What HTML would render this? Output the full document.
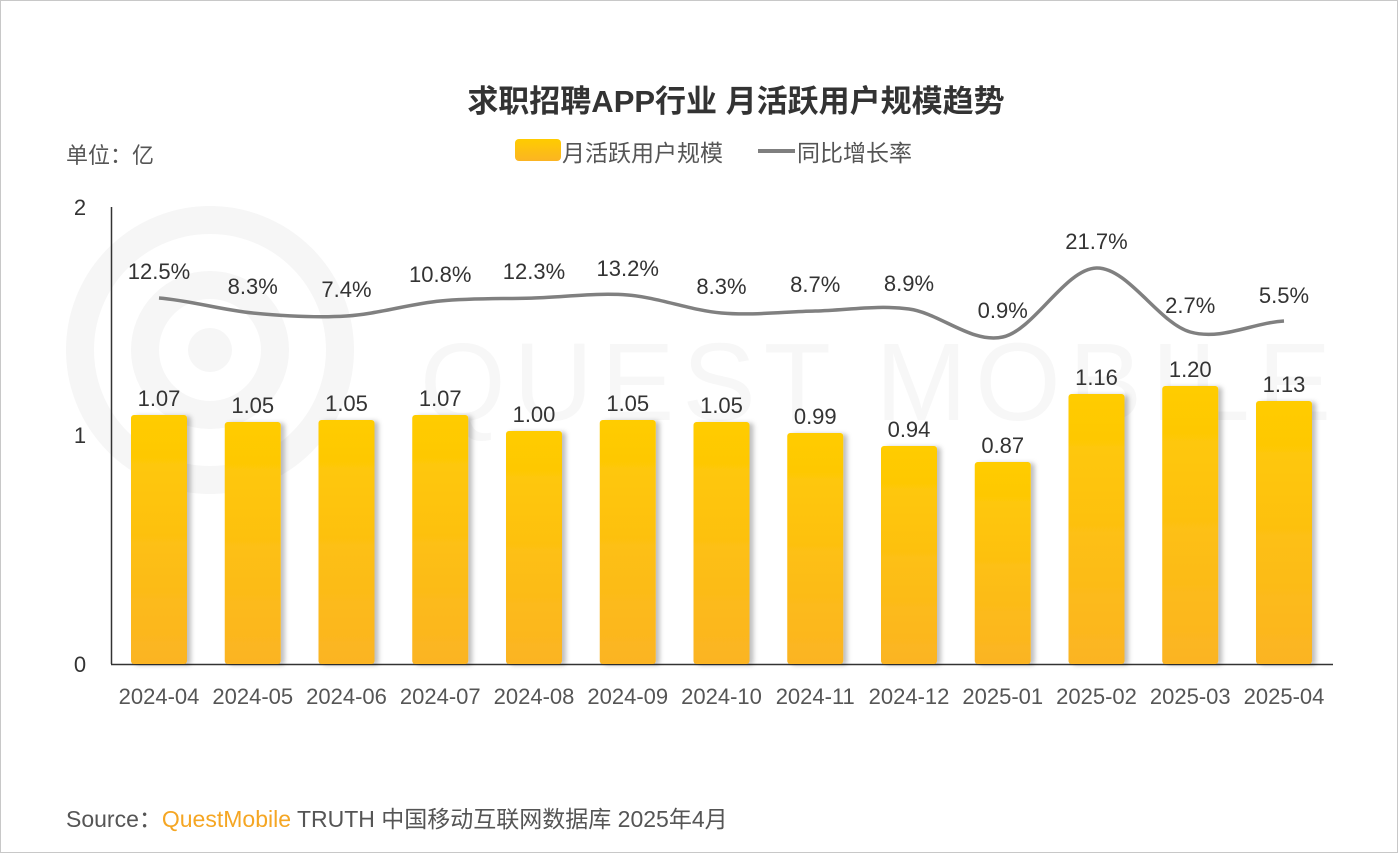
<!DOCTYPE html>
<html><head><meta charset="utf-8"><style>
body{margin:0;background:#fff;}
svg{display:block;font-family:"Liberation Sans","Noto Sans CJK SC",sans-serif;}
</style></head><body>
<svg width="1399" height="854" viewBox="0 0 1399 854" xmlns="http://www.w3.org/2000/svg">
<defs>
<linearGradient id="g" x1="0" y1="0" x2="0" y2="1"><stop offset="0" stop-color="#FFCC00"/><stop offset="1" stop-color="#FBB423"/></linearGradient>
<filter id="sh" x="-20%" y="-5%" width="140%" height="110%"><feDropShadow dx="4" dy="1" stdDeviation="2.5" flood-color="#000" flood-opacity="0.25"/></filter>
</defs>
<rect x="0.5" y="0.5" width="1397" height="852" fill="#fff" stroke="#c8c8c8"/>
<g fill="none" stroke="#f6f6f6" stroke-width="28">
<circle cx="210" cy="350" r="130"/><circle cx="210" cy="350" r="65"/>
</g>
<circle cx="210" cy="350" r="22" fill="#f6f6f6"/>
<text x="420" y="420" font-size="110" fill="#f7f7f7" letter-spacing="8">QUEST MOBILE</text>

<text x="736" y="112" font-size="31" font-weight="bold" fill="#333" text-anchor="middle">求职招聘APP行业 月活跃用户规模趋势</text>
<text x="66" y="163" font-size="22" fill="#555">单位：亿</text>
<rect x="515" y="139" width="46" height="22" rx="4" fill="url(#g)"/>
<text x="562" y="161" font-size="23" fill="#555">月活跃用户规模</text>
<line x1="758" y1="151" x2="795" y2="151" stroke="#7f7f7f" stroke-width="4"/>
<text x="797" y="161" font-size="23" fill="#555">同比增长率</text>

<g font-size="22" fill="#333" text-anchor="middle">
<text x="80" y="215">2</text><text x="80" y="443">1</text><text x="80" y="672">0</text>
</g>
<line x1="111.5" y1="207" x2="111.5" y2="664" stroke="#333" stroke-width="1.5"/>
<line x1="111" y1="664.5" x2="1333" y2="664.5" stroke="#333" stroke-width="1.5"/>

<g fill="url(#g)" filter="url(#sh)">
<rect x="131" y="415" width="56" height="249" rx="3"/>
<rect x="224.75" y="422" width="56" height="242" rx="3"/>
<rect x="318.5" y="420" width="56" height="244" rx="3"/>
<rect x="412.25" y="415" width="56" height="249" rx="3"/>
<rect x="506" y="431" width="56" height="233" rx="3"/>
<rect x="599.75" y="420" width="56" height="244" rx="3"/>
<rect x="693.5" y="422" width="56" height="242" rx="3"/>
<rect x="787.25" y="433" width="56" height="231" rx="3"/>
<rect x="881" y="446" width="56" height="218" rx="3"/>
<rect x="974.75" y="462" width="56" height="202" rx="3"/>
<rect x="1068.5" y="394" width="56" height="270" rx="3"/>
<rect x="1162.25" y="386" width="56" height="278" rx="3"/>
<rect x="1256" y="401" width="56" height="263" rx="3"/>
</g>
<g font-size="22" fill="#333" text-anchor="middle">
<text x="159" y="406">1.07</text><text x="252.75" y="413">1.05</text><text x="346.5" y="411">1.05</text>
<text x="440.25" y="406">1.07</text><text x="534" y="422">1.00</text><text x="627.75" y="411">1.05</text>
<text x="721.5" y="413">1.05</text><text x="815.25" y="424">0.99</text><text x="909" y="437">0.94</text>
<text x="1002.75" y="453">0.87</text><text x="1096.5" y="385">1.16</text><text x="1190.25" y="377">1.20</text>
<text x="1284" y="392">1.13</text>
</g>
<path d="M159,298 C190.25,300.5 221.5,310 252.75,313 C284,316 315.25,318 346.5,316 C377.75,314 409,304 440.25,301 C471.5,298 502.75,299 534,298 C565.25,297 596.5,292.5 627.75,295 C659,297.5 690.25,310.3 721.5,313 C752.75,315.7 784,311.7 815.25,311 C846.5,310.3 877.75,304.7 909,309 C940.25,313.3 971.5,343.8 1002.75,337 C1034,330.2 1065.25,268.8 1096.5,268 C1127.75,267.2 1159,323.2 1190.25,332 C1221.5,340.8 1252.75,322.8 1284,321" fill="none" stroke="#808080" stroke-width="3.5"/>
<g font-size="22" fill="#333" text-anchor="middle">
<text x="159" y="279">12.5%</text><text x="252.75" y="294">8.3%</text><text x="346.5" y="297">7.4%</text>
<text x="440.25" y="282">10.8%</text><text x="534" y="279">12.3%</text><text x="627.75" y="276">13.2%</text>
<text x="721.5" y="294">8.3%</text><text x="815.25" y="292">8.7%</text><text x="909" y="291">8.9%</text>
<text x="1002.75" y="318">0.9%</text><text x="1096.5" y="249">21.7%</text><text x="1190.25" y="313">2.7%</text>
<text x="1284" y="303">5.5%</text>
</g>
<g font-size="22" fill="#555" text-anchor="middle">
<text x="159" y="704">2024-04</text><text x="252.75" y="704">2024-05</text><text x="346.5" y="704">2024-06</text>
<text x="440.25" y="704">2024-07</text><text x="534" y="704">2024-08</text><text x="627.75" y="704">2024-09</text>
<text x="721.5" y="704">2024-10</text><text x="815.25" y="704">2024-11</text><text x="909" y="704">2024-12</text>
<text x="1002.75" y="704">2025-01</text><text x="1096.5" y="704">2025-02</text><text x="1190.25" y="704">2025-03</text>
<text x="1284" y="704">2025-04</text>
</g>
<text x="66" y="827" font-size="23" fill="#555">Source：<tspan fill="#F5A623">QuestMobile</tspan> TRUTH 中国移动互联网数据库 2025年4月</text>
</svg>
</body></html>
